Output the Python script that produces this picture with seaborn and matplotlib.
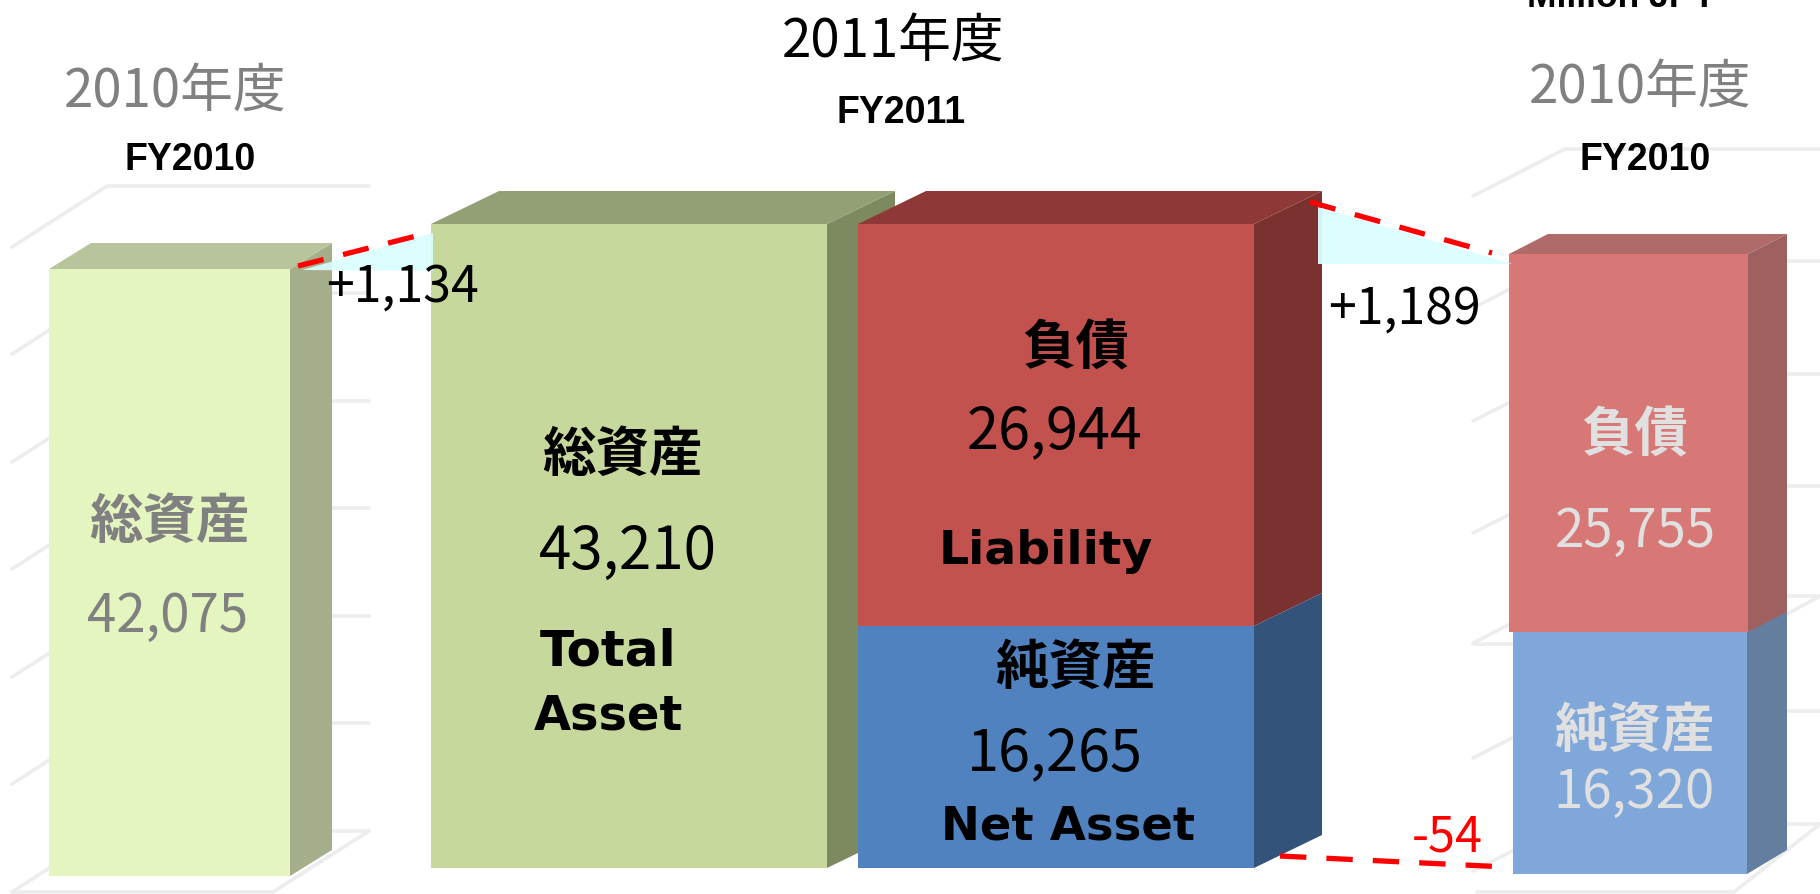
import seaborn as sns
import matplotlib.pyplot as plt
from matplotlib.patches import Polygon

# values (million JPY)
total_2010 = 42075
total_2011 = 43210
liability_2011 = 26944
net_2011 = 16265
liability_2010 = 25755
net_2010 = 16320

delta_labels = ["+1,134", "+1,189", "-54"]
year_labels = ["2010年度", "2011年度"]
fy_labels = ["FY2010", "FY2011"]
unit_label = "Million JPY"

W, H = 1820, 895

sns.set_theme(style="white")
plt.rcParams['font.family'] = ['Noto Sans CJK JP', 'DejaVu Sans']

fig = plt.figure(figsize=(W / 100, H / 100), dpi=100)
fig.patch.set_facecolor('white')


def pixel_axes(zorder):
    ax = fig.add_axes([0, 0, 1, 1], zorder=zorder)
    ax.set_xlim(0, W)
    ax.set_ylim(H, 0)
    ax.axis('off')
    ax.patch.set_alpha(0)
    return ax


back = pixel_axes(0)
front = pixel_axes(5)

# faint 3d wall / floor grid behind the FY2010 bars
grid_col = '#EDEDED'
left_rows = [187, 294, 402, 509, 617, 724, 832]
right_rows = [150, 262, 375, 487, 597, 712, 825]
for y in left_rows:
    back.plot([12, 107, 369], [y + 61, y, y], color=grid_col, lw=2.6, solid_capstyle='round')
for y in right_rows:
    back.plot([1473, 1565, W], [y + 47, y, y], color=grid_col, lw=2.6, solid_capstyle='round')
back.plot([12, 273, 369], [893, 893, 832], color=grid_col, lw=2.6)
back.plot([1477, 1734, 1820], [893, 893, 825], color=grid_col, lw=2.6)
back.plot([1473, 1732, 1820], [645, 645, 597], color=grid_col, lw=2.6)


def draw_bar(left, right, top, bottom, value, name, face, side, roof, dx, dy, z=2):
    # one bar per axes, the axes box is where the bar sits on the slide
    ax = fig.add_axes([left / W, 1 - bottom / H, (right - left) / W, (bottom - top) / H], zorder=z)
    sns.barplot(x=[name], y=[value], color=face, width=1, saturation=1, linewidth=0, ax=ax)
    ax.set_xlim(-0.5, 0.5)
    ax.set_ylim(0, value)
    ax.axis('off')
    ax.patch.set_alpha(0)

    # extruded faces come from where the bar ended up
    box = ax.patches[0].get_window_extent()
    x0, x1 = box.x0, box.x1
    yt, yb = H - box.y1, H - box.y0
    layer = fig.add_axes([0, 0, 1, 1], zorder=z - 0.5)
    layer.set_xlim(0, W)
    layer.set_ylim(H, 0)
    layer.axis('off')
    layer.patch.set_alpha(0)
    layer.add_patch(Polygon([(x1, yb), (x1 + dx, yb - dy), (x1 + dx, yt - dy), (x1, yt)], fc=side, lw=0))
    if roof:
        layer.add_patch(Polygon([(x0, yt), (x0 + dx, yt - dy), (x1 + dx, yt - dy), (x1, yt)], fc=roof, lw=0))


draw_bar(49, 290, 270, 877, total_2010, "総資産", '#E4F5C0', '#A4AE8A', '#B8C49B', 42, 26)
draw_bar(431, 827, 225, 869, total_2011, "総資産", '#C6D89B', '#7D8A60', '#939F75', 68, 33)
draw_bar(858, 1254, 225, 627, liability_2011, "負債", '#C3524F', '#7B3130', '#8E3937', 68, 33)
draw_bar(858, 1254, 627, 869, net_2011, "純資産", '#5082C0', '#33537A', None, 68, 33, z=3)
draw_bar(1513, 1747, 633, 875, net_2010, "純資産", '#7FA7D9', '#647E9F', None, 40, 24)
draw_bar(1509, 1748, 255, 633, liability_2010, "負債", '#D87876', '#9F6060', '#AF6A69', 39, 20, z=3)

# change wedges and dashed connectors
wedge = '#DAFEFF'
front.add_patch(Polygon([(302, 271), (433, 234), (433, 272)], fc=wedge, lw=0, alpha=0.9))
front.add_patch(Polygon([(1318, 208), (1512, 265), (1318, 265)], fc=wedge, lw=0, alpha=0.95))
dash = dict(color='#FF0000', lw=3.8, dashes=(5, 3.8), dash_capstyle='butt')
front.plot([298, 428], [267, 234], **dash)
front.plot([1310, 1492], [203, 254], **dash)
front.plot([1280, 1506], [857, 868], **dash)

cjk = ['Noto Sans CJK JP', 'DejaVu Sans']
arial = ['Liberation Sans']
bold_lat = ['DejaVu Sans']


def put(x, y, s, size, color='black', weight='normal', family=cjk, ha='center', va='center'):
    front.text(x, y + 3, s, fontsize=size, color=color, fontweight=weight, family=family, ha=ha, va=va)


grey = '#808080'
pale = '#E0E0E0'

put(175, 88, year_labels[0], 38, grey)
put(893, 38, year_labels[1], 38)
put(1640, 84, year_labels[0], 38, grey)
put(190, 157, fy_labels[0], 27, weight='bold', family=arial)
put(901, 110, fy_labels[1], 27, weight='bold', family=arial)
put(1645, 157, fy_labels[0], 27, weight='bold', family=arial)
put(1622, 4, unit_label, 25.5, weight='bold', family=arial, va='baseline')

put(403, 285, delta_labels[0], 36)
put(1404, 307, delta_labels[1], 36)
put(1447, 835, delta_labels[2], 35, '#FF0000')

put(169, 519, "総資産", 38.5, grey, 'bold')
put(168, 613, f"{total_2010:,}", 38, grey)

put(622, 452, "総資産", 38.5, weight='bold')
put(628, 549, f"{total_2011:,}", 42)
put(540, 649, "Total", 36, weight='bold', family=bold_lat, ha='left')
put(534, 713, "Asset", 34.5, weight='bold', family=bold_lat, ha='left')

put(1076, 346, "負債", 38.5, weight='bold')
put(1055, 429, f"{liability_2011:,}", 41.5)
put(1046, 549, "Liability", 34, weight='bold', family=bold_lat)
put(1075, 665, "純資産", 38.5, weight='bold')
put(1055, 751, f"{net_2011:,}", 41.5)
put(1068, 824, "Net Asset", 33.5, weight='bold', family=bold_lat)

put(1635, 433, "負債", 38.5, pale, 'bold')
put(1635, 528, f"{liability_2010:,}", 38, pale)
put(1634, 728, "純資産", 38.5, pale, 'bold')
put(1634, 789, f"{net_2010:,}", 38, pale)

fig.savefig("out.png", dpi=100)
